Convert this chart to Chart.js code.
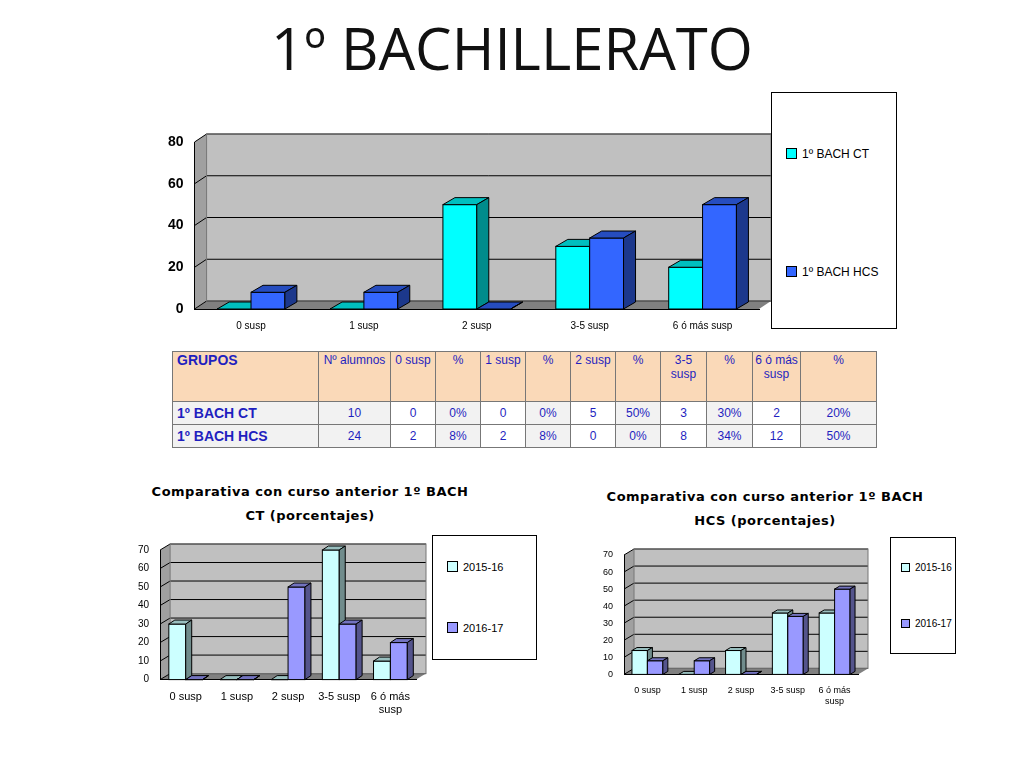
<!DOCTYPE html>
<html><head><meta charset="utf-8">
<script src="https://cdn.jsdelivr.net/npm/chart.js@4"></script>
<style>
body{margin:0;width:1024px;height:768px;background:#fff;font-family:"Liberation Sans",Arial,sans-serif;position:relative;overflow:hidden}
.abs{position:absolute}
h1{position:absolute;left:0;top:8px;width:1024px;text-align:center;margin:0;font:400 58px "Open Sans",sans-serif;color:#111}
.leg{position:absolute;border:1px solid #000;background:#fff;font-size:12px}
.leg div{position:absolute;left:14px;white-space:nowrap}
.leg span{display:inline-block;width:9px;height:9px;border:1px solid #000;margin-right:5px;vertical-align:-1px}
table{position:absolute;left:172px;top:351px;width:704px;border-collapse:collapse;font-size:12px;color:#1f1fbf;table-layout:fixed}
td{border:1px solid #777;text-align:center;vertical-align:top;padding:1px 2px;line-height:14px}
tr.h td{background:#fad9b8;height:47px}
tr.r td{background:#fff;height:20px;vertical-align:middle}
tr.r td.g{background:#f2f2f2}
.lbl{font-weight:bold;text-align:left;font-size:14px;padding-left:4px}
.ct{position:absolute;font:bold 13px "DejaVu Sans",sans-serif;text-align:center;line-height:24px;letter-spacing:0.5px}
</style></head><body>
<h1>1º BACHILLERATO</h1>
<div class="abs" style="left:165px;top:130px;width:610px;height:205px"><canvas id="c1"></canvas></div>
<div class="leg" style="left:771px;top:92px;width:124px;height:235px">
 <div style="top:54px"><span style="background:#00ffff"></span>1º BACH CT</div>
 <div style="top:172px"><span style="background:#3366ff"></span>1º BACH HCS</div>
</div>
<table id="tbl"><colgroup>
<col style="width:146px"><col style="width:72px"><col style="width:45px"><col style="width:45px"><col style="width:45px"><col style="width:45px"><col style="width:45px"><col style="width:45px"><col style="width:46px"><col style="width:46px"><col style="width:48px"><col style="width:76px">
</colgroup></table>
<div class="ct" style="left:150px;top:480px;width:320px">Comparativa con curso anterior 1º BACH<br>CT (porcentajes)</div>
<div class="abs" style="left:135px;top:540px;width:295px;height:180px"><canvas id="c2"></canvas></div>
<div class="leg" style="left:432px;top:535px;width:103px;height:123px;font-size:11px">
 <div style="top:25px"><span style="background:#ccffff"></span>2015-16</div>
 <div style="top:86px"><span style="background:#9999ff"></span>2016-17</div>
</div>
<div class="ct" style="left:605px;top:485px;width:320px">Comparativa con curso anterior 1º BACH<br>HCS (porcentajes)</div>
<div class="abs" style="left:600px;top:545px;width:272px;height:165px"><canvas id="c3"></canvas></div>
<div class="leg" style="left:890px;top:537px;width:64px;height:115px;font-size:10px">
 <div style="top:24px;left:10px"><span style="background:#ccffff;width:7px;height:7px"></span>2015-16</div>
 <div style="top:80px;left:10px"><span style="background:#9999ff;width:7px;height:7px"></span>2016-17</div>
</div>
<script>
const categories = ['0 susp', '1 susp', '2 susp', '3-5 susp', '6 ó más susp'];
const bachCT = [0, 0, 50, 30, 20];
const bachHCS = [8, 8, 0, 34, 50];
const ctPrev = [30, 0, 0, 70, 10];
const ctCur = [0, 0, 50, 30, 20];
const hcsPrev = [14, 0, 14, 36, 36];
const hcsCur = [8, 8, 0, 34, 50];
const tableHead = ['GRUPOS', 'Nº alumnos', '0 susp', '%', '1 susp', '%', '2 susp', '%', '3-5 susp', '%', '6 ó más susp', '%'];
const tableCT = ['1º BACH CT', '10', '0', '0%', '0', '0%', '5', '50%', '3', '30%', '2', '20%'];
const tableHCS = ['1º BACH HCS', '24', '2', '8%', '2', '8%', '0', '0%', '8', '34%', '12', '50%'];

// tabla
const tbl = document.getElementById('tbl');
let html = '<tr class="h">' + tableHead.map((t, i) => `<td${i == 0 ? ' class="lbl"' : ''}>${t}</td>`).join('') + '</tr>';
[tableCT, tableHCS].forEach(r => {
    html += '<tr class="r">' + r.map((t, i) => `<td class="${i == 0 ? 'lbl g' : (i % 2 == 1 ? 'g' : '')}">${t}</td>`).join('') + '</tr>';
});
tbl.insertAdjacentHTML('beforeend', html);

// plugin 3D: pared gris y caras laterales/superiores
function shade(hex, f) {
    const n = parseInt(hex.slice(1), 16);
    const c = [n >> 16, (n >> 8) & 255, n & 255].map(v => Math.round(v * f));
    return `rgb(${c[0]},${c[1]},${c[2]})`;
}
const bars3d = {
    id: 'bars3d',
    beforeDraw(chart, args, opts) {
        const { ctx, chartArea: a } = chart;
        const d = opts.dx, e = opts.dy;
        ctx.save();
        ctx.fillStyle = '#c0c0c0';
        ctx.fillRect(a.left + d, a.top - e, a.right - a.left, a.bottom - a.top);
        ctx.fillStyle = '#a0a0a0';
        ctx.beginPath();
        ctx.moveTo(a.left, a.top); ctx.lineTo(a.left + d, a.top - e);
        ctx.lineTo(a.left + d, a.bottom - e); ctx.lineTo(a.left, a.bottom); ctx.closePath(); ctx.fill();
        ctx.fillStyle = '#808080';
        ctx.beginPath();
        ctx.moveTo(a.left, a.bottom); ctx.lineTo(a.left + d, a.bottom - e);
        ctx.lineTo(a.right + d, a.bottom - e); ctx.lineTo(a.right, a.bottom); ctx.closePath(); ctx.fill();
        ctx.strokeStyle = '#000'; ctx.lineWidth = 1;
        chart.scales.y.ticks.forEach(t => {
            const y = chart.scales.y.getPixelForValue(t.value);
            ctx.beginPath(); ctx.moveTo(a.left, y); ctx.lineTo(a.left + d, y - e); ctx.lineTo(a.right + d, y - e); ctx.stroke();
        });
        ctx.strokeStyle = '#777';
        ctx.strokeRect(a.left + d, a.top - e, a.right - a.left, a.bottom - a.top);
        ctx.restore();
    },
    afterDatasetsDraw(chart, args, opts) {
        const { ctx } = chart;
        const d = opts.bdx, e = opts.bdy;
        ctx.save();
        ctx.lineWidth = 1; ctx.strokeStyle = '#000';
        chart.data.datasets.forEach((ds, i) => {
            chart.getDatasetMeta(i).data.forEach(b => {
                const l = b.x - b.width / 2, r = b.x + b.width / 2, t = b.y, bt = b.base;
                ctx.fillStyle = ds.barColor;
                ctx.fillRect(l, t, r - l, bt - t); ctx.strokeRect(l, t, r - l, bt - t);
                ctx.fillStyle = shade(ds.barColor, 0.75);
                ctx.beginPath(); ctx.moveTo(l, t); ctx.lineTo(l + d, t - e); ctx.lineTo(r + d, t - e); ctx.lineTo(r, t); ctx.closePath(); ctx.fill(); ctx.stroke();
                ctx.fillStyle = shade(ds.barColor, 0.55);
                ctx.beginPath(); ctx.moveTo(r, t); ctx.lineTo(r + d, t - e); ctx.lineTo(r + d, bt - e); ctx.lineTo(r, bt); ctx.closePath(); ctx.fill(); ctx.stroke();
            });
        });
        ctx.restore();
    }
};

function makeChart(id, a, b, colA, colB, max, step, fs, depth, bdepth, pct) {
    new Chart(document.getElementById(id), {
        type: 'bar',
        data: {
            labels: categories,
            datasets: [
                // las caras se pintan en el plugin, el relleno del dataset queda transparente
                { data: a, barColor: colA, backgroundColor: 'rgba(0,0,0,0)', borderWidth: 0 },
                { data: b, barColor: colB, backgroundColor: 'rgba(0,0,0,0)', borderWidth: 0 }
            ]
        },
        options: {
            responsive: true, maintainAspectRatio: false, animation: false,
            layout: { padding: { top: depth[1] + 4, right: depth[0] + 4 } },
            datasets: { bar: { categoryPercentage: pct, barPercentage: 1 } },
            plugins: {
                legend: { display: false }, tooltip: { enabled: false },
                bars3d: { dx: depth[0], dy: depth[1], bdx: bdepth[0], bdy: bdepth[1] }
            },
            scales: {
                x: {
                    grid: { display: false }, border: { color: '#000' },
                    ticks: { color: '#000', font: { size: fs[1], family: 'Liberation Sans' }, maxRotation: 0, autoSkip: false,
                        callback: (v, i) => id != 'c1' && categories[i] == '6 ó más susp' ? ['6 ó más', 'susp'] : categories[i] }
                },
                y: {
                    min: 0, max: max, grid: { display: false }, border: { color: '#000' },
                    ticks: { stepSize: step, color: '#000', font: { size: fs[0], family: 'Liberation Sans', weight: id == 'c1' ? 'bold' : 'normal' } }
                }
            }
        },
        plugins: [bars3d]
    });
}
makeChart('c1', bachCT, bachHCS, '#00ffff', '#3366ff', 80, 20, [14, 10], [12, 8], [12, 7], 0.6);
makeChart('c2', ctPrev, ctCur, '#ccffff', '#9999ff', 70, 10, [10, 11], [10, 6], [6, 4], 0.66);
makeChart('c3', hcsPrev, hcsCur, '#ccffff', '#9999ff', 70, 10, [9, 9], [10, 6], [5, 3], 0.66);
</script>
</body></html>
